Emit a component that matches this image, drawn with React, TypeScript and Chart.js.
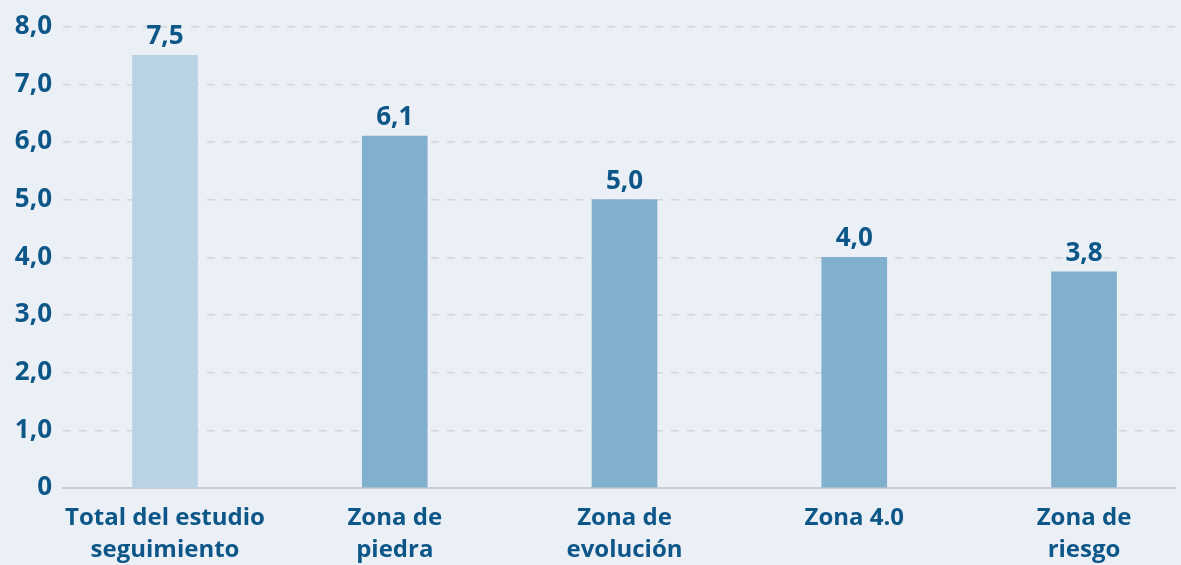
import React, { useEffect, useRef } from "react";
import { Chart, registerables } from "chart.js";

Chart.register(...registerables);

const categories: string[][] = [
  ["Total del estudio", "seguimiento"],
  ["Zona de", "piedra"],
  ["Zona de", "evolución"],
  ["Zona 4.0"],
  ["Zona de", "riesgo"],
];
const values: number[] = [7.5, 6.1, 5.0, 4.0, 3.75];
const barColors: string[] = ["#b9d3e5", "#80b0cd", "#80b0cd", "#80b0cd", "#80b0cd"];
const yTicks: number[] = [0, 1, 2, 3, 4, 5, 6, 7, 8];

const TEXT = "#0c5688";
const FONT = "'Open Sans'";

const fmt = (v: number) => (v === 0 ? "0" : v.toFixed(1).replace(".", ","));

const labelPlugin = {
  id: "barLabels",
  afterDatasetsDraw(chart: any) {
    const ctx = chart.ctx;
    const meta = chart.getDatasetMeta(0);
    ctx.save();
    ctx.font = `bold 26px ${FONT}`;
    ctx.fillStyle = TEXT;
    ctx.textAlign = "center";
    ctx.textBaseline = "alphabetic";
    meta.data.forEach((el: any, i: number) => {
      ctx.fillText(fmt(values[i]), el.x, el.y - 11);
    });
    ctx.restore();
  },
};

export default function App() {
  const ref = useRef<HTMLCanvasElement | null>(null);
  useEffect(() => {
    document.body.style.margin = "0";
    document.body.style.background = "#ebeff6";
    const chart = new Chart(ref.current!, {
      type: "bar",
      data: {
        datasets: [
          {
            data: values.map((v, i) => ({ x: i, y: v })),
            backgroundColor: barColors,
            barThickness: 65,
            borderWidth: 0,
          },
        ],
      },
      options: {
        animation: false,
        responsive: false,
        maintainAspectRatio: false,
        layout: { padding: { top: 18, right: 6, left: 0, bottom: 0 } },
        plugins: { legend: { display: false }, tooltip: { enabled: false } },
        scales: {
          x: {
            type: "linear",
            offset: false,
            min: -0.444,
            max: 4.396,
            afterBuildTicks: (scale: any) => {
              scale.ticks = categories.map((_, i) => ({ value: i }));
            },
            afterFit: (scale: any) => {
              scale.height = 77;
            },
            grid: { display: false, drawTicks: false, offset: false },
            border: { display: true, color: "#c9cdd3", width: 2 },
            ticks: {
              autoSkip: false,
              maxRotation: 0,
              padding: 15,
              color: TEXT,
              font: { family: FONT, size: 24, weight: "bold", lineHeight: 1.3 },
              callback: (v: any) => categories[Math.round(Number(v))] ?? "",
            },
          },
          y: {
            min: 0,
            max: 8,
            afterBuildTicks: (scale: any) => {
              scale.ticks = yTicks.map((v) => ({ value: v }));
            },
            afterFit: (scale: any) => {
              scale.width = 63;
            },
            grid: {
              drawTicks: false,
              lineWidth: 1.5,
              color: (c: any) => (c.tick && c.tick.value === 0 ? "rgba(0,0,0,0)" : "#d3d6db"),
            },
            border: { display: false, dash: [8, 8] },
            ticks: {
              padding: 11,
              color: TEXT,
              font: { family: FONT, size: 26, weight: "bold" },
              callback: (v: any) => fmt(Number(v)),
            },
          },
        },
      },
      plugins: [labelPlugin],
    });
    return () => chart.destroy();
  }, []);
  return (
    <div style={{ width: 1181, height: 565, background: "#ebeff6" }}>
      <canvas ref={ref} width={1181} height={565} style={{ display: "block" }} />
    </div>
  );
}
